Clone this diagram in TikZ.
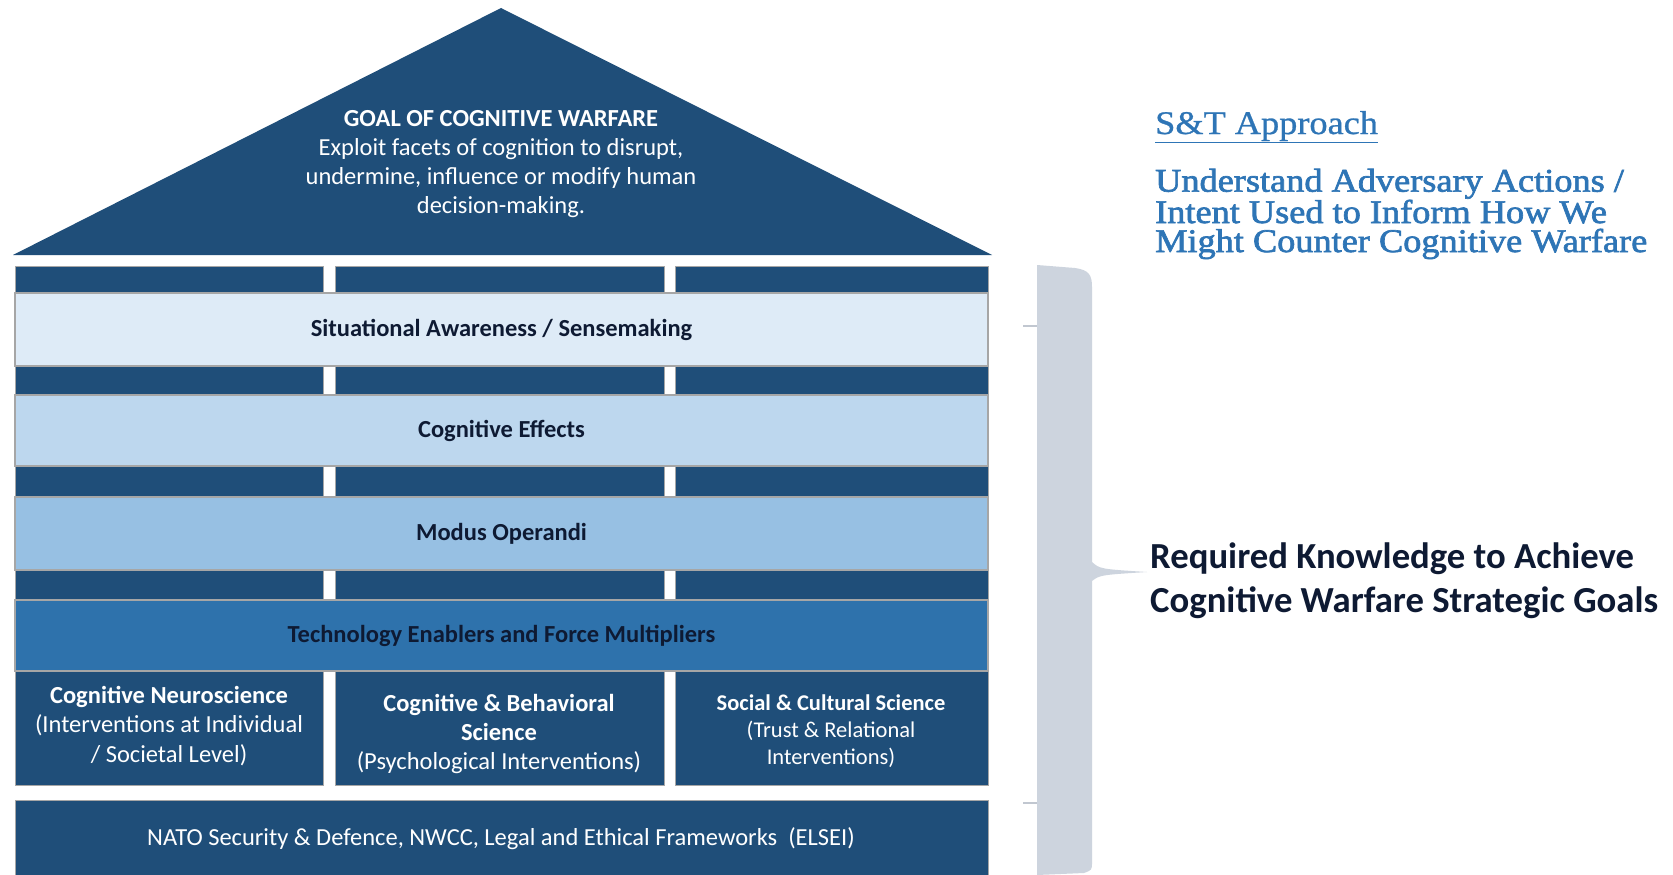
\documentclass[tikz,border=0pt]{standalone}
\usepackage{fontspec}
\setmainfont{Carlito}
\newfontfamily\stserif[FakeBold=2,FakeStretch=1.1]{Liberation Serif}
\newfontfamily\stserifreg[FakeBold=0.8,FakeStretch=1.1]{Liberation Serif}
\definecolor{navy}{HTML}{1F4E79}
\definecolor{bandA}{HTML}{DEEBF7}
\definecolor{bandB}{HTML}{BDD7EE}
\definecolor{bandC}{HTML}{97C0E3}
\definecolor{bandD}{HTML}{2E72AC}
\definecolor{edgegray}{HTML}{A6A6A6}
\definecolor{bracegray}{HTML}{CDD4DE}
\definecolor{stblue}{HTML}{2E75B6}
\definecolor{darktext}{HTML}{0E1A33}
\begin{document}
\begin{tikzpicture}[x=1pt,y=-1pt,
  bar/.style={fill=navy, draw=edgegray, line width=0.8pt},
  band/.style={draw=edgegray, line width=1.5pt, inner sep=0pt, outer sep=0pt, anchor=north west,
    minimum width=973pt, font=\fontsize{24.5}{29}\selectfont\bfseries, text=darktext},
  pillarbox/.style={fill=navy, draw=edgegray, line width=0.8pt, inner sep=0pt, outer sep=0pt, anchor=north west,
    minimum height=114pt},
  pillartext/.style={align=center, text=white, inner sep=0pt, font=\fontsize{24.5}{29.3}\selectfont},
  righttext/.style={anchor=base west, inner sep=0pt, align=left}]
\useasboundingbox (0,0) rectangle (1673,875);
\fill[white] (0,0) rectangle (1673,875);

% roof
\fill[navy] (13,255) -- (501,8) -- (992,255) -- cycle;
\node[align=center, text=white, font=\fontsize{24.5}{29.2}\selectfont] (goal) at (501,164)
  {\textbf{GOAL OF COGNITIVE WARFARE}\\Exploit facets of cognition to disrupt,\\undermine, influence or modify human\\decision-making.};

% dark bars
\foreach \ya/\yb in {266/293, 366/395, 466/497, 570/600}{
  \draw[bar] (15,\ya) rectangle (323,\yb);
  \draw[bar] (335,\ya) rectangle (664,\yb);
  \draw[bar] (675,\ya) rectangle (988,\yb);
}

% bands
\node[band, fill=bandA, minimum height=73pt] (sa) at (15,293) {Situational Awareness / Sensemaking};
\node[band, fill=bandB, minimum height=71pt] (ce) at (15,395) {Cognitive Effects};
\node[band, fill=bandC, minimum height=73pt] (mo) at (15,497) {Modus Operandi};
\node[band, fill=bandD, minimum height=71pt] (te) at (15,600) {Technology Enablers and Force Multipliers};

% pillars
\node[pillarbox, minimum width=308pt] (p1box) at (15,671) {};
\node[pillarbox, minimum width=329pt] (p2box) at (335,671) {};
\node[pillarbox, minimum width=313pt] (p3box) at (675,671) {};
\node[pillartext] (p1) at (169,726)
  {\textbf{Cognitive Neuroscience}\\(Interventions at Individual\\/ Societal Level)};
\node[pillartext, font=\fontsize{24.5}{29}\selectfont] (p2) at (499,734)
  {\textbf{Cognitive \& Behavioral}\\\textbf{Science}\\(Psychological Interventions)};
\node[pillartext, font=\fontsize{22.5}{27.2}\selectfont] (p3) at (831,731)
  {\textbf{Social \& Cultural Science}\\(Trust \& Relational\\Interventions)};

% foundation
\fill[navy] (15,800) rectangle (988,875);
\draw[edgegray, line width=1pt] (15,875) -- (15,800) -- (988,800) -- (988,875);
\node[text=white, font=\fontsize{24.5}{29}\selectfont] (nato) at (501,839)
  {NATO Security \& Defence, NWCC, Legal and Ethical Frameworks\ \ (ELSEI)};

% brace
\fill[bracegray] (1037,265) -- (1075,268) .. controls (1089,270) and (1092,275) .. (1092,287)
  -- (1092,562) .. controls (1100,569) .. (1147,572) .. controls (1100,575) .. (1092,581)
  -- (1092,862) .. controls (1092,870) .. (1084,873) -- (1037,875) -- cycle;
\coordinate (t1) at (1023,326);
\coordinate (t1e) at (1037,326);
\coordinate (t2) at (1023,803);
\coordinate (t2e) at (1037,803);
\draw[bracegray!85!gray, line width=2pt] (t1) -- (t1e);
\draw[bracegray!85!gray, line width=2pt] (t2) -- (t2e);

% right texts
\node[righttext, text=stblue, font=\stserifreg\fontsize{33}{33}\selectfont] (st) at (1155,134)
  {\underline{S\&T Approach}};
\node[righttext, text=stblue, font=\stserif\fontsize{33}{29}\selectfont] (under) at (1155,252)
  {Understand Adversary Actions /\\Intent Used to Inform How We\\Might Counter Cognitive Warfare};
\node[righttext, text=darktext, font=\fontsize{36.7}{44}\selectfont\bfseries] (req) at (1150,612)
  {Required Knowledge to Achieve\\Cognitive Warfare Strategic Goals};
\end{tikzpicture}
\end{document}
